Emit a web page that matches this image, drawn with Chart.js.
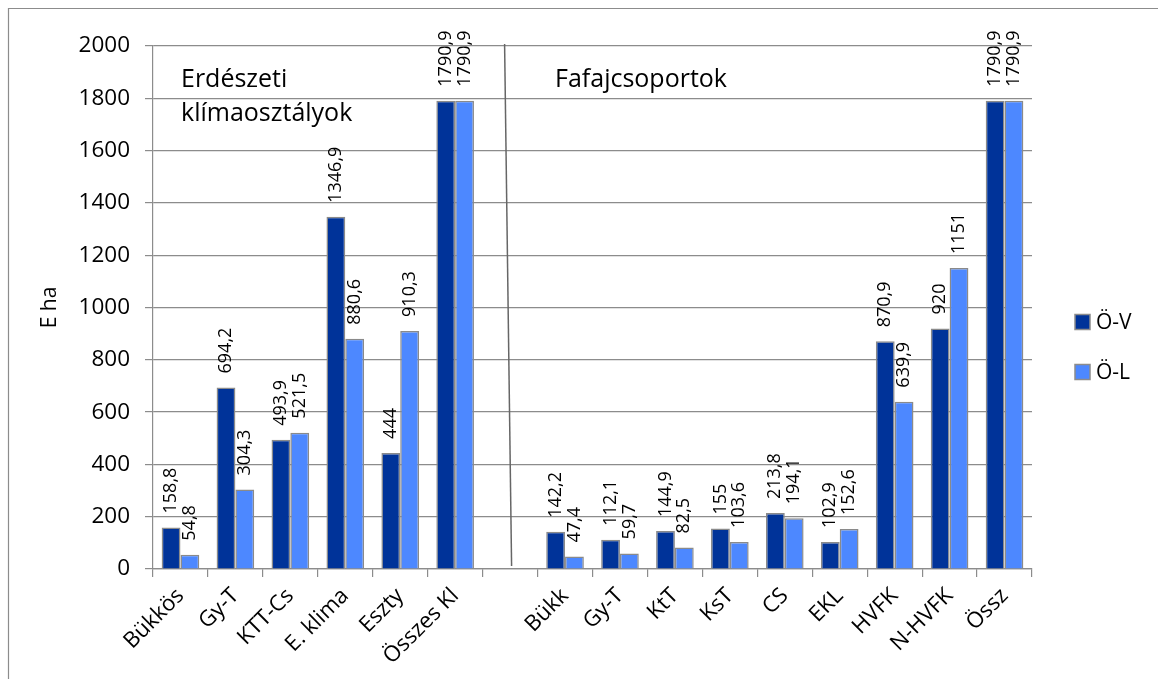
<!DOCTYPE html>
<html><head><meta charset="utf-8">
<script src="https://cdn.jsdelivr.net/npm/chart.js@4.4.1/dist/chart.umd.min.js"></script>
<style>html,body{margin:0;padding:0;background:#fff}#wrap{width:1158px;height:679px;position:relative}</style>
</head><body><div id="wrap"><canvas id="c" width="1158" height="679"></canvas></div>
<script>
const categories = ['Bükkös','Gy-T','KTT-Cs','E. klima','Eszty','Összes Kl','','Bükk','Gy-T','KtT','KsT','CS','EKL','HVFK','N-HVFK','Össz'];
const seriesNames = ['Ö-V','Ö-L'];
const valuesOV = [158.8, 694.2, 493.9, 1346.9, 444, 1790.9, null, 142.2, 112.1, 144.9, 155, 213.8, 102.9, 870.9, 920, 1790.9];
const valuesOL = [54.8, 304.3, 521.5, 880.6, 910.3, 1790.9, null, 47.4, 59.7, 82.5, 103.6, 194.1, 152.6, 639.9, 1151, 1790.9];
const yTicks = [0,200,400,600,800,1000,1200,1400,1600,1800,2000];
const groupTitleLeft = ['Erdészeti','klímaosztályok'];
const groupTitleRight = ['Fafajcsoportok'];
const yTitle = 'E ha';

const FONT = "'Open Sans', sans-serif";
const colors = ['#003399', '#4d88ff'];
const GRID = '#8c8c8c';

const fmt = v => String(v).replace('.', ',');

const framePlugin = {
  id: 'frame',
  beforeDraw(chart) {
    const ctx = chart.ctx;
    ctx.save();
    ctx.fillStyle = '#fff';
    ctx.fillRect(0, 0, chart.width, chart.height);
    ctx.strokeStyle = '#8c8c8c';
    ctx.lineWidth = 1.2;
    ctx.beginPath();
    ctx.moveTo(8.5, chart.height);
    ctx.lineTo(8.5, 8.5);
    ctx.lineTo(chart.width, 8.5);
    ctx.stroke();
    ctx.restore();
  }
};

const labelPlugin = {
  id: 'vlabels',
  afterDatasetsDraw(chart) {
    const ctx = chart.ctx;
    ctx.save();
    ctx.fillStyle = '#000';
    ctx.font = "18px " + FONT;
    ctx.textAlign = 'left';
    ctx.textBaseline = 'middle';
    chart.data.datasets.forEach((ds, di) => {
      const meta = chart.getDatasetMeta(di);
      meta.data.forEach((el, i) => {
        const v = ds.data[i];
        if (v === null || v === undefined) return;
        ctx.save();
        ctx.translate(el.x, el.y - 14);
        ctx.rotate(-Math.PI / 2);
        ctx.fillText(fmt(v), 0, 0);
        ctx.restore();
      });
    });
    ctx.restore();
  }
};

const annotPlugin = {
  id: 'annot',
  afterDraw(chart) {
    const ctx = chart.ctx;
    const xs = chart.scales.x, ys = chart.scales.y;
    const area = chart.chartArea;
    ctx.save();
    const cx = xs.getPixelForValue(6);
    ctx.strokeStyle = '#666';
    ctx.lineWidth = 1.5;
    ctx.beginPath();
    ctx.moveTo(cx - 5.5, ys.getPixelForValue(2000) - 2);
    ctx.lineTo(cx + 1.5, area.bottom - 3);
    ctx.stroke();
    ctx.fillStyle = '#000';
    ctx.font = "25px " + FONT;
    ctx.textAlign = 'left';
    ctx.textBaseline = 'alphabetic';
    ctx.fillText(groupTitleLeft[0], area.left + 28, 87);
    ctx.fillText(groupTitleLeft[1], area.left + 28, 121);
    ctx.fillText(groupTitleRight[0], xs.getPixelForValue(7) - 10, 87);
    ctx.font = "21px " + FONT;
    ctx.textBaseline = 'middle';
    const ly = [322, 372];
    chart.data.datasets.forEach((ds, i) => {
      ctx.fillStyle = ds.backgroundColor;
      ctx.fillRect(1075, ly[i] - 7.5, 15, 15);
      ctx.strokeStyle = '#8c8c8c';
      ctx.lineWidth = 1.5;
      ctx.strokeRect(1075, ly[i] - 7.5, 15, 15);
      ctx.fillStyle = '#000';
      ctx.fillText(ds.label, 1096, ly[i] + 1);
    });
    ctx.restore();
  }
};

new Chart(document.getElementById('c'), {
  type: 'bar',
  data: {
    labels: categories,
    datasets: [
      { label: seriesNames[0], data: valuesOV, backgroundColor: colors[0], borderColor: '#8a8a8a', borderWidth: 1.5, categoryPercentage: 0.685, barPercentage: 1 },
      { label: seriesNames[1], data: valuesOL, backgroundColor: colors[1], borderColor: '#8a8a8a', borderWidth: 1.5, categoryPercentage: 0.685, barPercentage: 1 }
    ]
  },
  options: {
    responsive: false,
    animation: false,
    devicePixelRatio: 1,
    layout: { padding: { top: 46, right: 126, left: 0, bottom: 0 } },
    plugins: { legend: { display: false }, tooltip: { enabled: false } },
    scales: {
      x: {
        type: 'category',
        offset: true,
        grid: { offset: true, drawOnChartArea: false, drawTicks: true, tickLength: 8, color: GRID, lineWidth: 1.2 },
        border: { color: GRID, width: 1.2 },
        ticks: { autoSkip: false, maxRotation: 45, minRotation: 45, font: { family: FONT, size: 22 }, color: '#000', padding: 6 },
        afterFit(s) { s.height = 110; }
      },
      y: {
        min: 0, max: 2000,
        afterBuildTicks(s) { s.ticks = yTicks.map(v => ({ value: v })); },
        grid: { color: GRID, lineWidth: 1.2, tickLength: 8, tickColor: GRID },
        border: { color: GRID, width: 1.2 },
        ticks: { font: { family: FONT, size: 22.5 }, color: '#000', padding: 15, callback: v => String(v) },
        title: { display: true, text: yTitle, font: { family: FONT, size: 21 }, color: '#000', padding: { top: 37, bottom: 0 } },
        afterFit(s) { s.width = 153; }
      }
    }
  },
  plugins: [framePlugin, labelPlugin, annotPlugin]
});
</script>
</body></html>
